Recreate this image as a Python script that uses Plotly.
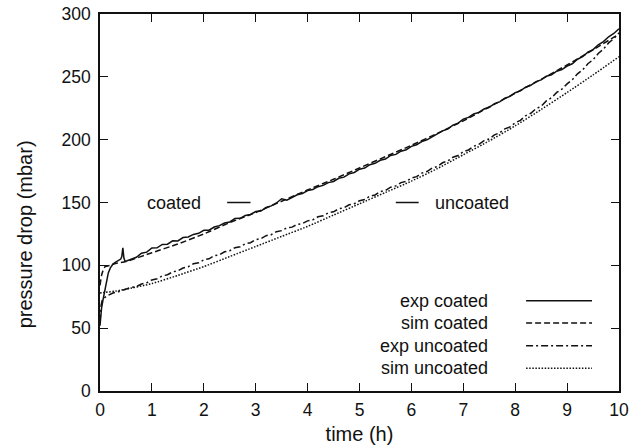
import numpy as np
import plotly.graph_objects as go

# ---------------- data ----------------
# experimental, coated: early transient then 0.1 h samples
exp_coated_t_early = [0, 0.01, 0.03, 0.06, 0.1, 0.13, 0.16, 0.2, 0.25, 0.3, 0.35, 0.4, 0.42, 0.44, 0.46, 0.48]
exp_coated_v_early = [52, 60, 66, 73, 82, 88, 94, 98, 101, 102.5, 104, 105, 107, 114, 106, 103.5]
exp_coated_v = [
    103.2, 104.5, 106.4, 109.6, 110.5, 113.8,
    113.9, 116.6, 116.8, 119.5, 119.4,
    122.1, 122.6, 124.6, 125.5, 127.9,
    128.0, 130.5, 131.6, 133.7, 134.5,
    137.2, 137.4, 139.6, 140.5, 142.8,
    143.2, 146.0, 147.3, 149.6, 153.0,
    151.9, 154.0, 156.2, 157.1, 159.5,
    160.3, 162.6, 163.6, 165.8, 166.7,
    169.3, 170.2, 172.8, 173.9, 176.5,
    177.4, 180.1, 181.2, 183.6, 184.6,
    187.4, 188.3, 190.8, 192.0, 194.7,
    195.9, 198.5, 199.9, 202.6, 204.6,
    207.0, 208.5, 211.6, 213.2, 216.4,
    217.7, 220.5, 221.7, 224.4, 225.8,
    228.7, 230.1, 233.0, 234.4, 237.4,
    238.8, 241.8, 243.3, 246.2, 247.6,
    250.5, 251.6, 254.5, 255.8, 258.6,
    260.4, 264.0, 266.0, 269.6, 271.7,
    275.5, 278.0, 281.9, 284.5, 288.3,
]

# experimental, uncoated
exp_uncoated_t_early = [0, 0.005, 0.01, 0.02, 0.04, 0.08, 0.15, 0.25, 0.35, 0.45]
exp_uncoated_v_early = [55, 60, 64, 68, 72, 74, 76, 78, 79, 80.5]
exp_uncoated_v = [
    81.0, 82.5, 83.1, 85.1, 86.1, 88.4,
    89.3, 91.6, 92.5, 94.8, 95.7,
    97.9, 98.9, 101.2, 102.0, 104.4,
    105.2, 107.6, 108.4, 110.8, 111.6,
    114.0, 114.8, 117.2, 118.0, 120.5,
    121.2, 123.6, 124.4, 126.8, 127.6,
    129.8, 130.4, 132.6, 133.2, 135.4,
    136.2, 138.6, 139.4, 141.8, 142.6,
    145.0, 145.8, 148.2, 149.0, 151.4,
    152.4, 155.0, 156.0, 158.6, 159.6,
    162.2, 163.2, 165.8, 166.8, 169.4,
    170.6, 173.4, 174.6, 177.4, 178.6,
    181.6, 183.0, 186.0, 187.4, 190.4,
    191.8, 194.8, 196.2, 199.2, 200.6,
    203.8, 205.4, 208.6, 210.2, 213.4,
    215.4, 219.0, 221.0, 224.6, 226.6,
    230.8, 233.4, 237.6, 240.2, 244.4,
    247.6, 252.4, 255.6, 260.4, 263.6,
    268.6, 272.0, 277.0, 280.4, 285.0,
]
grid_start, grid_end, grid_step = 0.5, 10.0, 0.1

# simulations (smooth)
sim_coated_t = [0, 0.03, 0.06, 0.1, 0.2, 0.3, 0.5, 1, 1.5, 2, 2.5, 3, 3.5, 4, 4.5, 5, 5.5, 6, 6.5, 7, 7.5, 8, 8.5, 9, 9.5, 10]
sim_coated_v = [84, 92, 96, 99, 100, 101.5, 103, 110, 117, 125, 134, 142, 151, 160, 168.5, 177.5, 186.5, 195.5, 205, 215, 226, 237, 248, 259.5, 271.5, 284]
sim_uncoated_t = [0, 0.1, 0.3, 0.5, 1, 1.5, 2, 2.5, 3, 3.5, 4, 4.5, 5, 5.5, 6, 6.5, 7, 7.5, 8, 8.5, 9, 9.5, 10]
sim_uncoated_v = [78, 78.5, 79.5, 81, 85.5, 92, 99, 107, 115, 123, 131, 140, 149, 158, 167, 177, 188, 199, 211, 224, 237.5, 251.5, 266]

legend_labels = ["exp coated", "sim coated", "exp uncoated", "sim uncoated"]
x_ticks = list(range(0, 11))
y_ticks = list(range(0, 301, 50))

# ---------------- styles ----------------
FONT = "Liberation Sans, Arial, Helvetica, sans-serif"
BLACK = "#111111"
dashes = ["solid", "6px,3px", "7px,3px,2px,3px", "1.5px,1.6px"]
LW = 1.5

grid_t = np.round(np.arange(grid_start, grid_end + grid_step / 2, grid_step), 2)
exp_coated_t = list(exp_coated_t_early) + list(grid_t)
exp_coated_all = list(exp_coated_v_early) + exp_coated_v
exp_uncoated_t = list(exp_uncoated_t_early) + list(grid_t)
exp_uncoated_all = list(exp_uncoated_v_early) + exp_uncoated_v

fig = go.Figure()
series = [
    (exp_coated_t, exp_coated_all, "linear"),
    (sim_coated_t, sim_coated_v, "spline"),
    (exp_uncoated_t, exp_uncoated_all, "linear"),
    (sim_uncoated_t, sim_uncoated_v, "spline"),
]
for (t, v, shape), name, dash in zip(series, legend_labels, dashes):
    fig.add_trace(go.Scatter(
        x=t, y=v, mode="lines", name=name, showlegend=False,
        line=dict(color=BLACK, width=LW, dash=dash, shape=shape, smoothing=0.6 if shape == "spline" else None),
    ))

# manual legend (text right, sample line on the right) in paper coordinates
leg_rows = [0.2395, 0.1804, 0.1200, 0.0602]
for label, yy, dash in zip(legend_labels, leg_rows, dashes):
    fig.add_annotation(x=0.752, y=yy, xref="paper", yref="paper", text=label,
                       showarrow=False, xanchor="right", yanchor="middle",
                       font=dict(family=FONT, size=18, color=BLACK))
    fig.add_shape(type="line", xref="paper", yref="paper", x0=0.821, x1=0.948, y0=yy, y1=yy,
                  line=dict(color=BLACK, width=LW, dash=dash))

# in-plot labels "coated —" and "— uncoated" at 150 mbar
fig.add_annotation(x=1.99, y=150, text="coated", showarrow=False, xanchor="right", yanchor="middle",
                   font=dict(family=FONT, size=18, color=BLACK))
fig.add_shape(type="line", x0=2.45, x1=2.90, y0=150, y1=150, line=dict(color=BLACK, width=LW))
fig.add_shape(type="line", x0=5.70, x1=6.14, y0=150, y1=150, line=dict(color=BLACK, width=LW))
fig.add_annotation(x=6.42, y=150, text="uncoated", showarrow=False, xanchor="left", yanchor="middle",
                   font=dict(family=FONT, size=18, color=BLACK))

# y axis title as an annotation (sits a bit below the plot centre in the reference)
fig.add_annotation(x=-0.145, y=0.415, xref="paper", yref="paper", text="pressure drop (mbar)",
                   textangle=-90, showarrow=False, xanchor="center", yanchor="middle",
                   font=dict(family=FONT, size=20, color=BLACK))

axis_common = dict(showline=True, linecolor=BLACK, linewidth=1.5, mirror="ticks",
                   ticks="inside", ticklen=8, tickwidth=1.3, tickcolor=BLACK,
                   showgrid=False, zeroline=False,
                   tickfont=dict(family=FONT, size=17.5, color=BLACK))

fig.update_xaxes(range=[0, 10], tickvals=x_ticks, ticktext=[str(v) for v in x_ticks],
                 title=dict(text="time (h)", font=dict(family=FONT, size=20, color=BLACK), standoff=8),
                 ticklabelstandoff=2, **axis_common)
fig.update_yaxes(range=[0, 300], tickvals=y_ticks, ticktext=[str(v) for v in y_ticks],
                 ticklabelstandoff=4, **axis_common)

fig.update_layout(width=640, height=447, margin=dict(l=100, r=21, t=14, b=56, autoexpand=False),
                  paper_bgcolor="white", plot_bgcolor="white", showlegend=False)

fig.write_html("out.html")
